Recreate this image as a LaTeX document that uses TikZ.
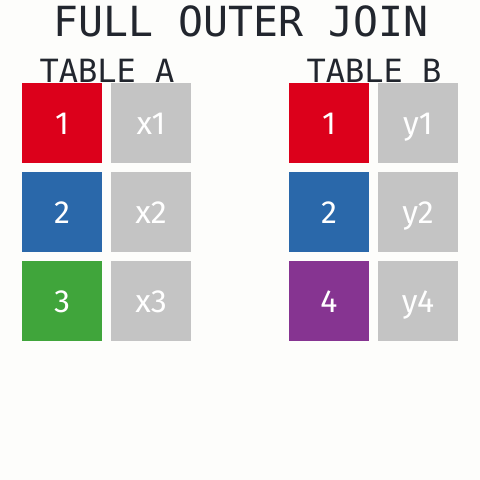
\documentclass[tikz,border=0pt]{standalone}
\usepackage{fontspec}
\setmainfont{Fira Sans}
\newfontfamily\monofont{DejaVu Sans Mono}
\definecolor{bg}{RGB}{253,253,251}
\definecolor{ink}{RGB}{34,38,46}
\definecolor{keyred}{RGB}{220,0,27}
\definecolor{keyblue}{RGB}{42,104,170}
\definecolor{keygreen}{RGB}{64,165,59}
\definecolor{keypurple}{RGB}{134,52,145}
\definecolor{valgrey}{RGB}{196,196,196}
\tikzset{
    cell/.style={minimum size=80pt, inner sep=0pt, text=white, text height=23pt, text depth=0pt,
        font=\fontsize{32}{32}\selectfont},
    heading/.style={anchor=base, text=ink, inner sep=0pt}
}
\begin{document}
\begin{tikzpicture}[x=1pt, y=-1pt]
    \fill[bg] (0,0) rectangle (480,480);
    \node[heading, font=\monofont\fontsize{41.5}{41.5}\selectfont] (title) at (241, 36) {FULL OUTER JOIN};
    % table A
    \node[heading, font=\monofont\fontsize{32}{32}\selectfont] (tabA) at (107, 82) {TABLE A};
    \node[cell, fill=keyred] (a1) at (62, 123) {1};
    \node[cell, fill=valgrey] (ax1) at (151, 123) {x1};
    \node[cell, fill=keyblue] (a2) at (62, 212) {2};
    \node[cell, fill=valgrey] (ax2) at (151, 212) {x2};
    \node[cell, fill=keygreen] (a3) at (62, 301) {3};
    \node[cell, fill=valgrey] (ax3) at (151, 301) {x3};
    % table B
    \node[heading, font=\monofont\fontsize{32}{32}\selectfont] (tabB) at (374, 82) {TABLE B};
    \node[cell, fill=keyred] (b1) at (329, 123) {1};
    \node[cell, fill=valgrey] (by1) at (418, 123) {y1};
    \node[cell, fill=keyblue] (b2) at (329, 212) {2};
    \node[cell, fill=valgrey] (by2) at (418, 212) {y2};
    \node[cell, fill=keypurple] (b4) at (329, 301) {4};
    \node[cell, fill=valgrey] (by4) at (418, 301) {y4};
\end{tikzpicture}
\end{document}
